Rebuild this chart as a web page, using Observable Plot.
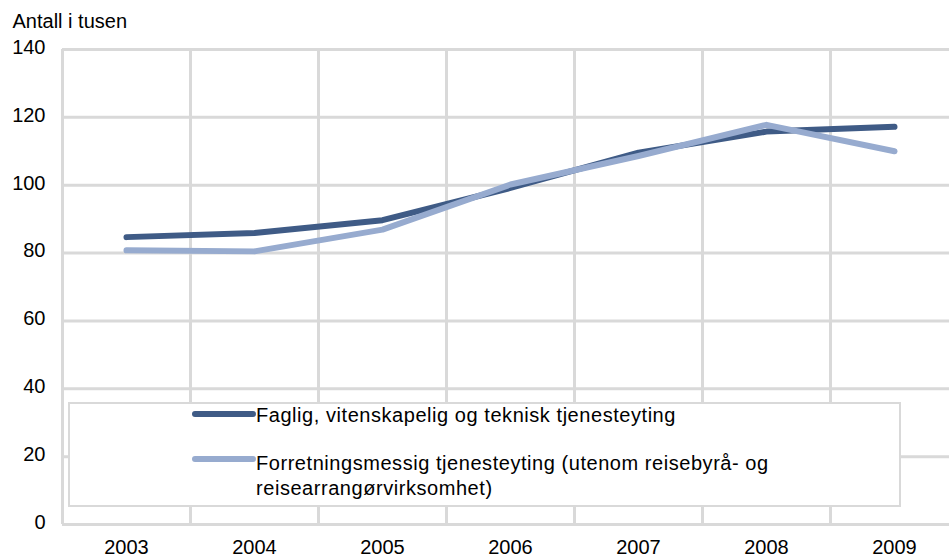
<!DOCTYPE html>
<html>
<head>
<meta charset="utf-8">
<script src="https://cdn.jsdelivr.net/npm/d3@7"></script>
<script src="https://cdn.jsdelivr.net/npm/@observablehq/plot@0.6"></script>
<style>
  html, body { margin: 0; padding: 0; background: #fff; }
  #wrap { position: relative; width: 949px; height: 558px; overflow: hidden; font-family: "Liberation Sans", Arial, sans-serif; }
  #legend { position: absolute; left: 68px; top: 402px; width: 829px; height: 101px; background: #fff; border: 2px solid #D9D9D9; }
  .item { position: absolute; left: 186px; font-size: 20px; line-height: 25px; letter-spacing: 0.55px; color: #000; white-space: nowrap; }
</style>
</head>
<body>
<div id="wrap"></div>
<script>
const years = [2003, 2004, 2005, 2006, 2007, 2008, 2009];
const faglig = [84.7, 85.9, 89.7, 99.2, 109.6, 115.8, 117.2];
const forretning = [80.8, 80.5, 86.9, 100.2, 108.6, 117.8, 110.0];
const seriesNames = [
  "Faglig, vitenskapelig og teknisk tjenesteyting",
  "Forretningsmessig tjenesteyting (utenom reisebyrå- og reisearrangørvirksomhet)"
];
const legendLines = [
  ["Faglig, vitenskapelig og teknisk tjenesteyting"],
  ["Forretningsmessig tjenesteyting (utenom reisebyrå- og", "reisearrangørvirksomhet)"]
];
const seriesColors = ["#3F5B86", "#97ABCF"];
const yTicks = [0, 20, 40, 60, 80, 100, 120, 140];
const yLabel = "Antall i tusen";

const data = [
  ...years.map((yr, i) => ({year: yr, value: faglig[i], series: seriesNames[0]})),
  ...years.map((yr, i) => ({year: yr, value: forretning[i], series: seriesNames[1]}))
];
const grid = "#D9D9D9";

const chart = Plot.plot({
  width: 949,
  height: 558,
  marginLeft: 62,
  marginRight: 0,
  marginTop: 49,
  marginBottom: 34,
  style: {fontFamily: "'Liberation Sans', Arial, sans-serif", fontSize: "20px", color: "#000", background: "#fff"},
  x: {type: "linear", domain: [2002.5, 2009.5], range: [62, 958]},
  y: {domain: [0, 140]},
  color: {domain: seriesNames, range: seriesColors},
  marks: [
    Plot.ruleY(yTicks, {stroke: grid, strokeWidth: 3}),
    Plot.ruleX(years.map(y => y - 0.5).concat([years[years.length - 1] + 0.5]), {y1: 0, y2: 140, stroke: grid, strokeWidth: 3}),
    Plot.line(data, {x: "year", y: "value", stroke: "series", z: "series", strokeWidth: 6, strokeLinecap: "round", strokeLinejoin: "round"}),
    Plot.axisY({ticks: yTicks, tickSize: 0, tickPadding: 17, label: null, fontSize: 20, dy: -2}),
    Plot.axisX({ticks: years, tickFormat: d => String(d), tickSize: 0, tickPadding: 15, label: null, fontSize: 20}),
    Plot.text([yLabel], {frameAnchor: "top-left", lineAnchor: "middle", dx: -50, dy: -28, textAnchor: "start", fontSize: 20})
  ]
});
const wrap = document.getElementById("wrap");
wrap.appendChild(chart);

const legend = document.createElement("div");
legend.id = "legend";
const textTops = [-1.5, 46.5];
const swTops = [4, 49];
legendLines.forEach((lines, i) => {
  const item = document.createElement("div");
  item.className = "item";
  item.style.top = textTops[i] + "px";
  item.innerHTML = lines.map(l => `<div>${l}</div>`).join("");
  const sw = document.createElementNS("http://www.w3.org/2000/svg", "svg");
  sw.setAttribute("width", 70);
  sw.setAttribute("height", 12);
  sw.style.position = "absolute";
  sw.style.left = "121px";
  sw.style.top = swTops[i] + "px";
  const ln = document.createElementNS("http://www.w3.org/2000/svg", "line");
  ln.setAttribute("x1", 4); ln.setAttribute("x2", 62);
  ln.setAttribute("y1", 6); ln.setAttribute("y2", 6);
  ln.setAttribute("stroke", seriesColors[i]);
  ln.setAttribute("stroke-width", 6);
  ln.setAttribute("stroke-linecap", "round");
  sw.appendChild(ln);
  legend.appendChild(sw);
  legend.appendChild(item);
});
wrap.appendChild(legend);
</script>
</body>
</html>
